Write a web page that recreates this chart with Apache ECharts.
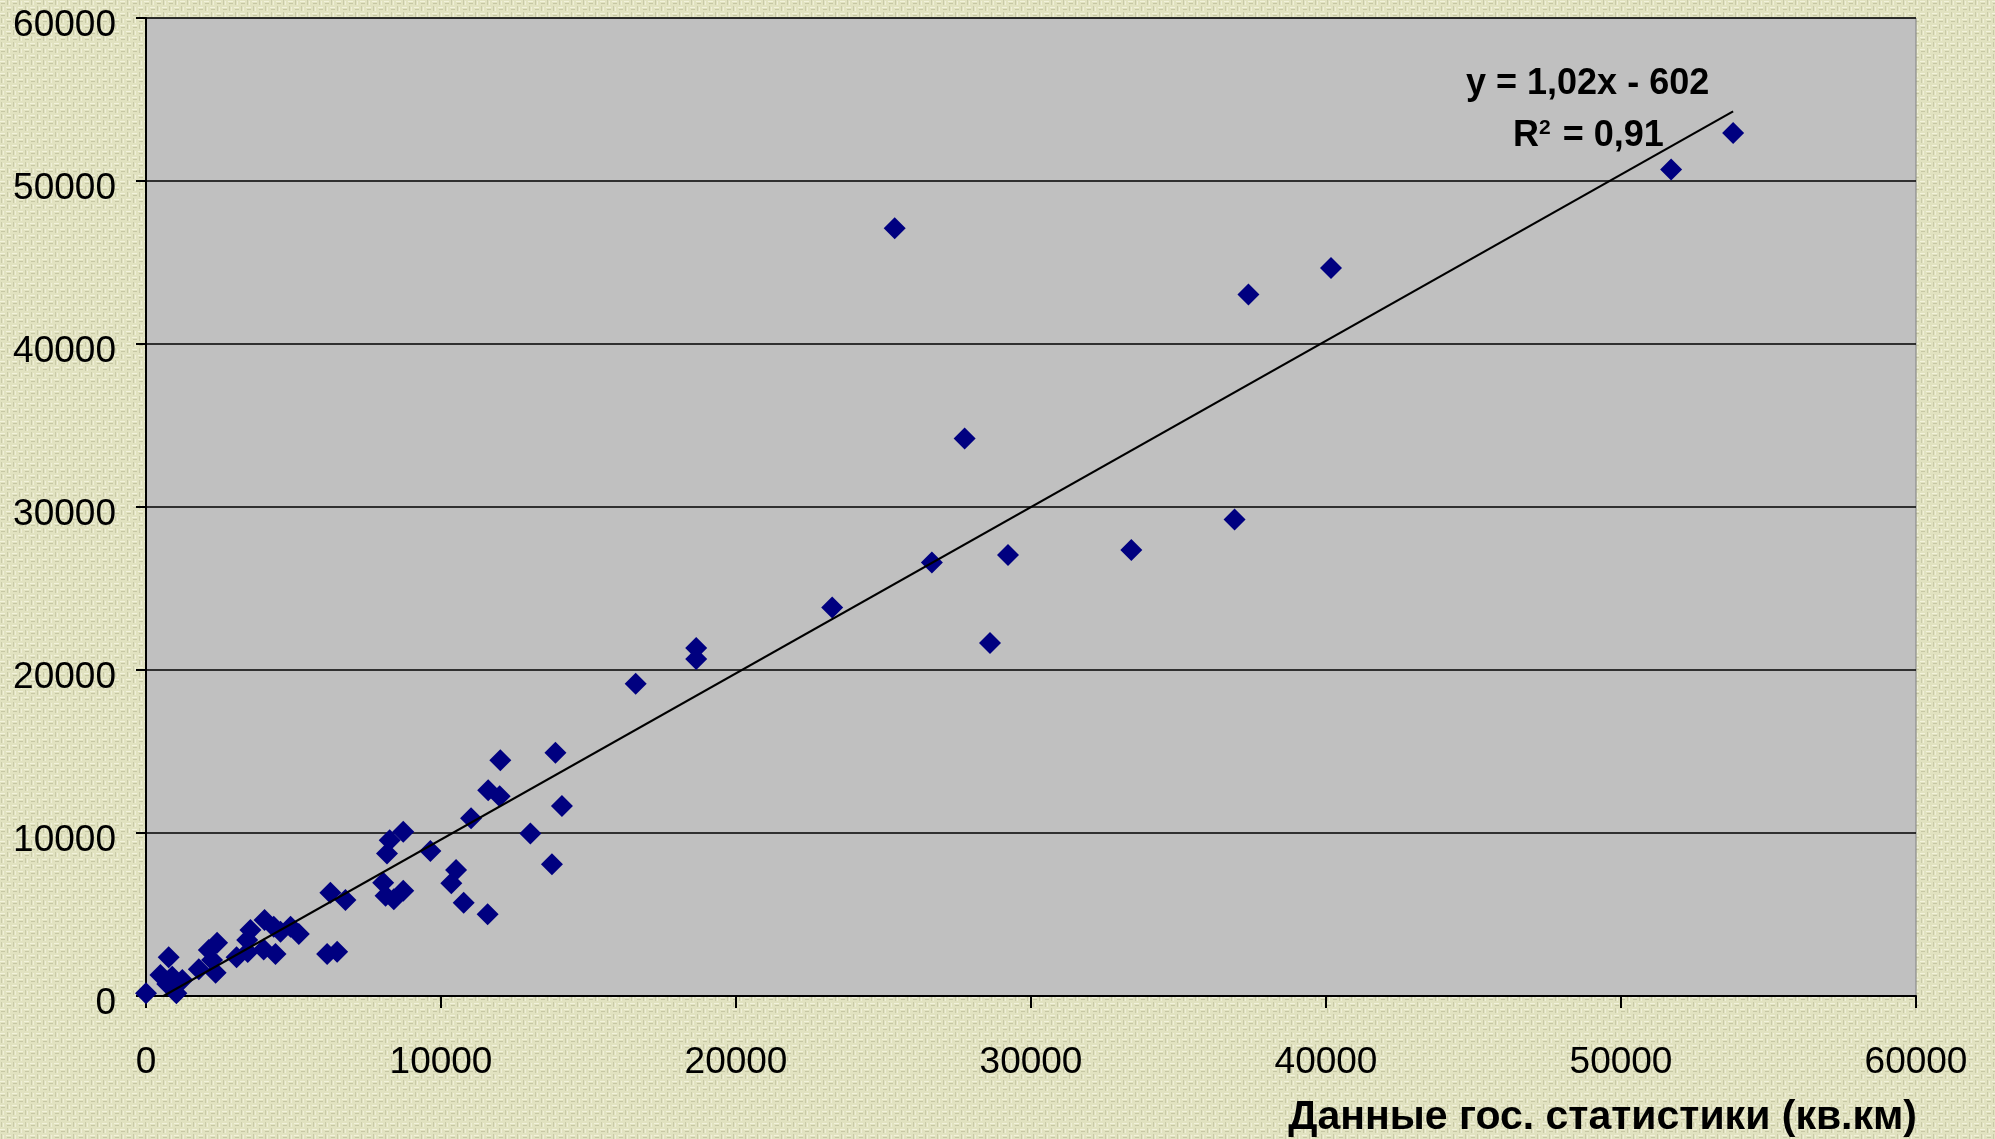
<!DOCTYPE html>
<html>
<head>
<meta charset="utf-8">
<script src="https://cdn.jsdelivr.net/npm/echarts@6/dist/echarts.min.js"></script>
<style>
  html, body { margin: 0; padding: 0; }
  #chart { width: 1995px; height: 1139px; }
</style>
</head>
<body>
<div id="chart"></div>
<script>
// площадь по данным гос. статистики (ось X), кв.км
var statArea = [
  0, 1030, 720, 1230, 490, 890, 770, 1790, 2360, 2240,
  2130, 2410, 3070, 3430, 3450, 3540, 3990, 4390, 4020, 4330,
  4560, 4900, 5180, 6140, 6480, 6250, 6760, 8040, 8120, 8400,
  8720, 8170, 8260, 8720, 9640, 10350, 10510, 10770, 11580, 11020,
  11600, 11990, 12010, 13030, 13760, 13880, 14100, 16600, 18650, 18650,
  23260, 25380, 26640, 27750, 28610, 29220, 33400, 36900, 37370, 40170,
  51700, 53800
];
// площадь по карте (ось Y), кв.км
var mapArea = [
  170, 170, 740, 980, 1290, 1180, 2370, 1640, 1430, 2210,
  2820, 3270, 2370, 3430, 2700, 4050, 2860, 2580, 4660, 4250,
  3940, 4250, 3800, 2580, 2720, 6330, 5890, 6950, 6150, 5930,
  6460, 8750, 9560, 10070, 8890, 6910, 7730, 5720, 5010, 10900,
  12630, 12260, 14470, 9970, 8090, 14920, 11650, 19150, 21350, 20680,
  23830, 47100, 26600, 34200, 21660, 27050, 27360, 29240, 43030, 44670,
  50700, 52950
];
// линейный тренд, как подписан на графике
var trendSlope = 1.02;
var trendIntercept = -602;
var trendRange = [0, 53800];

var axisTicks = { min: 0, max: 60000, interval: 10000 };

var points = statArea.map(function (x, i) { return [x, mapArea[i]]; });
var trendLine = trendRange.map(function (x) { return [x, trendSlope * x + trendIntercept]; });

// фон - плетёная текстура
function makeTexture() {
  var c = document.createElement('canvas');
  c.width = 48; c.height = 48;
  var g = c.getContext('2d');
  g.fillStyle = '#e1e2c0';
  g.fillRect(0, 0, 48, 48);
  for (var by = 0; by < 48; by += 6) {
    for (var bx = 0; bx < 48; bx += 6) {
      var odd = ((bx + by) / 6) % 2;
      g.fillStyle = odd ? '#c9caa8' : '#f2f2dc';
      if (odd) g.fillRect(bx + 1, by, 1, 5); else g.fillRect(bx, by + 1, 5, 1);
      g.fillStyle = odd ? '#efefd8' : '#c6c7a4';
      if (odd) g.fillRect(bx + 3, by + 1, 1, 4); else g.fillRect(bx + 1, by + 3, 4, 1);
    }
  }
  return c.toDataURL();
}
document.body.style.background = 'url(' + makeTexture() + ')';

var chart = echarts.init(document.getElementById('chart'));
var font = '"Liberation Sans", Arial, sans-serif';
var plain = function (v) { return String(v); };

chart.setOption({
  backgroundColor: 'transparent',
  animation: false,
  grid: {
    left: 146, right: 79, top: 18, bottom: 143,
    show: true, backgroundColor: '#c0c0c0', borderColor: '#808080', borderWidth: 1
  },
  xAxis: {
    type: 'value',
    min: axisTicks.min, max: axisTicks.max, interval: axisTicks.interval,
    axisLine: { lineStyle: { color: '#000', width: 2 } },
    axisTick: { show: true, length: 12, lineStyle: { color: '#000', width: 2 } },
    splitLine: { show: false },
    axisLabel: { color: '#000', fontSize: 37, fontFamily: font, margin: 48, formatter: plain }
  },
  yAxis: {
    type: 'value',
    min: axisTicks.min, max: axisTicks.max, interval: axisTicks.interval,
    axisLine: { show: true, lineStyle: { color: '#000', width: 2 } },
    axisTick: { show: true, length: 10, lineStyle: { color: '#000', width: 2 } },
    splitLine: { show: true, lineStyle: { color: '#000', width: 1.5 } },
    axisLabel: {
      color: '#000', fontSize: 37, fontFamily: font, margin: 30,
      verticalAlign: 'top', lineHeight: 16, formatter: plain
    }
  },
  series: [
    {
      type: 'scatter',
      data: points,
      symbol: 'diamond',
      symbolSize: 22,
      itemStyle: { color: '#000080', opacity: 1 },
      z: 2
    },
    {
      type: 'line',
      data: trendLine,
      symbol: 'none',
      clip: true,
      lineStyle: { color: '#000', width: 2.2 },
      z: 3
    }
  ],
  graphic: [
    {
      type: 'text', left: 1589 - 123, top: 66,
      style: { text: 'y = 1,02x - 602', font: 'bold 36px ' + font, fill: '#000' },
      z: 10
    },
    {
      type: 'text', left: 1513, top: 118,
      style: {
        text: 'R{sup|2} = 0,91',
        font: 'bold 36px ' + font, fill: '#000',
        rich: { sup: { font: 'bold 21px ' + font, fill: '#000', verticalAlign: 'top', padding: [0, 2, 16, 0] } }
      },
      z: 10
    },
    {
      type: 'text', right: 78, top: 1097,
      style: { text: 'Данные гос. статистики (кв.км)', font: 'bold 41px ' + font, fill: '#000' },
      z: 10
    }
  ]
});
</script>
</body>
</html>
